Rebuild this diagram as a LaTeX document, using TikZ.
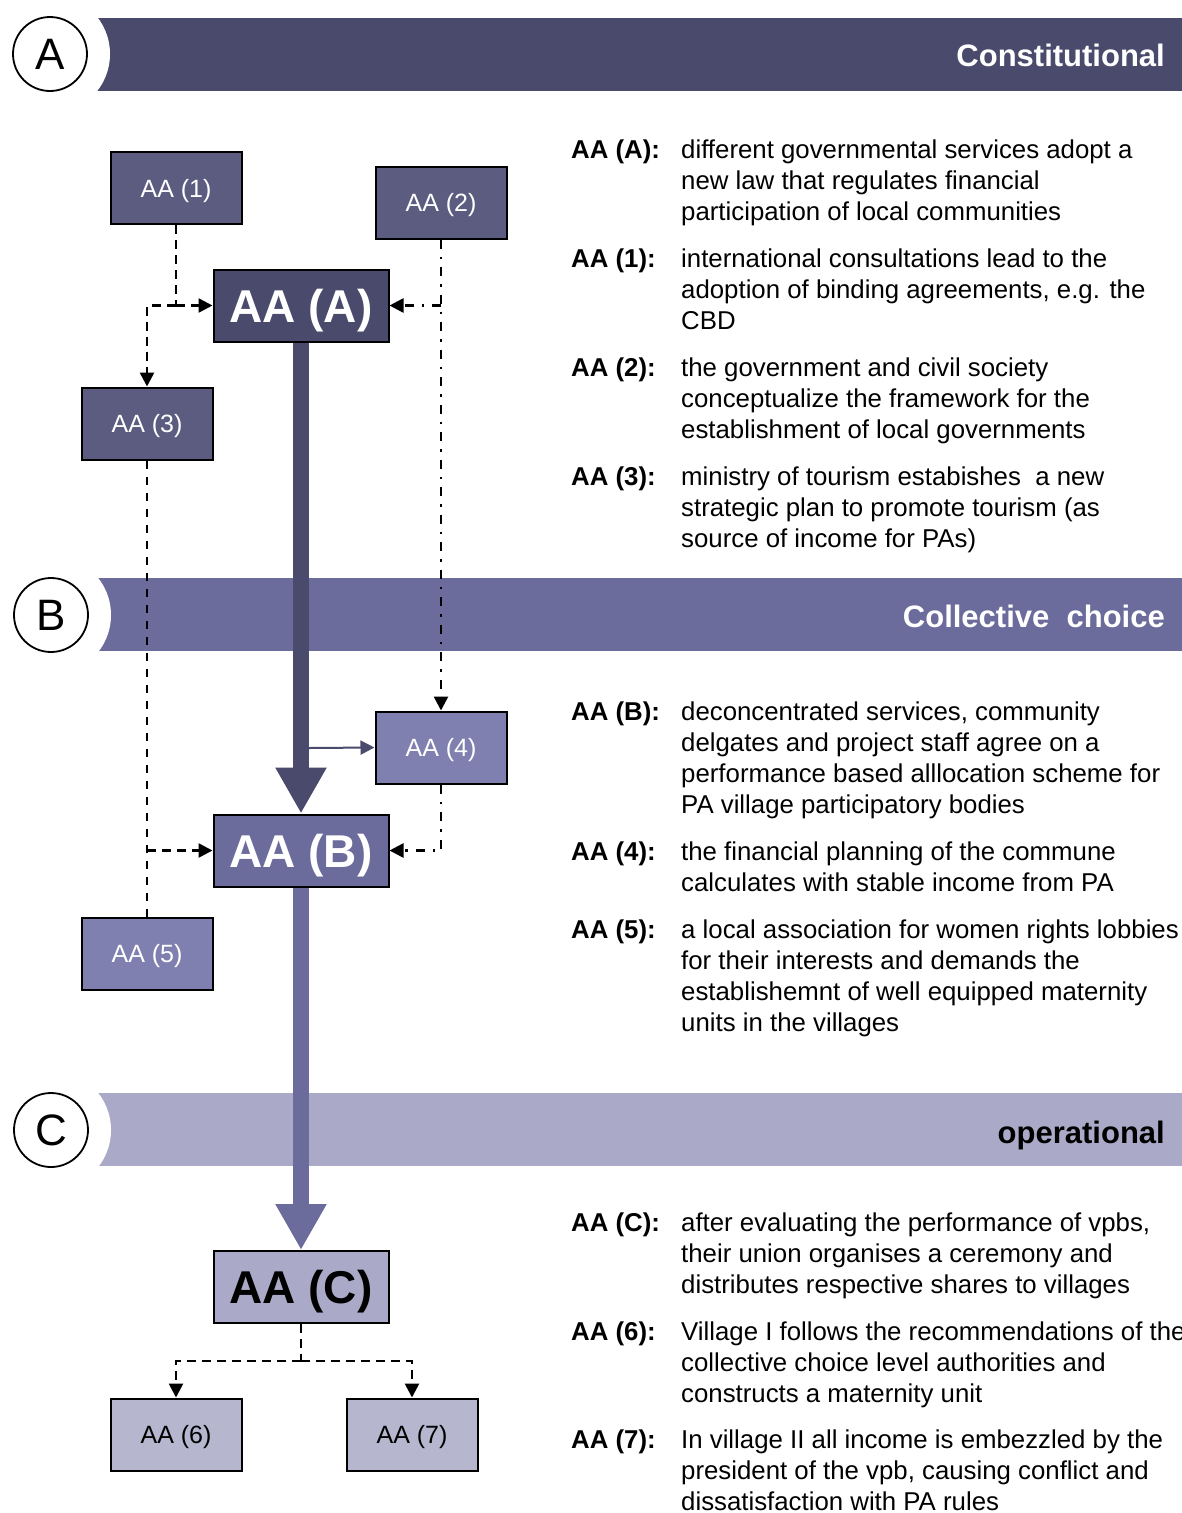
\documentclass[tikz,border=0pt]{standalone}
\usepackage{fontspec}
\setmainfont{Liberation Sans}
\usetikzlibrary{arrows.meta}

\definecolor{levelA}{HTML}{4A4A6C}
\definecolor{levelB}{HTML}{6C6C9C}
\definecolor{levelC}{HTML}{AAAAC8}
\definecolor{subA}{HTML}{5C5C80}
\definecolor{subB}{HTML}{8080B0}
\definecolor{subC}{HTML}{B6B6CE}

\tikzset{
  bandtitle/.style={anchor=base east, inner sep=0pt, font=\fontsize{31}{34}\selectfont\bfseries},
  levelmark/.style={circle, draw=black, line width=1.8pt, fill=white, minimum size=74pt, inner sep=0pt,
    font=\fontsize{44}{44}\selectfont},
  smallbox/.style={draw=black, line width=2pt, minimum width=131pt, minimum height=72pt, inner sep=0pt,
    text depth=0pt, font=\fontsize{25}{30}\selectfont},
  bigbox/.style={draw=black, line width=2pt, minimum width=175pt, minimum height=72pt, inner sep=0pt,
    text depth=0pt, font=\fontsize{46}{50}\selectfont\bfseries},
  tip/.style={-{Triangle[width=14pt,length=14pt]}},
  link/.style={line width=2.6pt, dash pattern=on 9pt off 6pt},
  linkdot/.style={line width=2.6pt, dash pattern=on 9pt off 8pt on 2.5pt off 8pt},
  flow/.style={line width=16pt, -{Triangle[width=48pt,length=46pt]}},
  lab/.style={anchor=base west, inner sep=0pt, font=\fontsize{25.8}{31}\selectfont\bfseries},
  desc/.style={anchor=base west, inner sep=0pt, font=\fontsize{25.8}{31}\selectfont},
}

\newcommand{\lines}[1]{\begin{tabular}[t]{@{}l@{}}#1\end{tabular}}

\begin{document}
\begin{tikzpicture}[x=1pt,y=-1pt]
\useasboundingbox (0,0) rectangle (1182,1513);

% level bands with a round notch at the left end
\fill[levelA] (95,18) rectangle (1182,91);
\fill[levelB] (95,578) rectangle (1182,651);
\fill[levelC] (95,1093) rectangle (1182,1166);
\fill[white] (50,54) circle[radius=60];
\fill[white] (51,615) circle[radius=60];
\fill[white] (51,1130) circle[radius=60];

\node[levelmark] (cA) at (50,54) {A};
\node[levelmark] (cB) at (51,615) {B};
\node[levelmark] (cC) at (51,1130) {C};

\node[bandtitle, text=white] (tA) at (1165,66) {Constitutional};
\node[bandtitle, text=white] (tB) at (1165,627) {Collective\ \ choice};
\node[bandtitle, text=black] (tC) at (1165,1143) {operational};

% action arenas
\node[smallbox, fill=subA, text=white] (AA1) at (176,188) {AA (1)};
\node[smallbox, fill=subA, text=white] (AA2) at (441,202.5) {AA (2)};
\node[bigbox, fill=levelA, text=white] (AAA) at (301,305.5) {AA (A)};
\node[smallbox, fill=subA, text=white] (AA3) at (147,423.5) {AA (3)};
\node[smallbox, fill=subB, text=white] (AA4) at (441,747.5) {AA (4)};
\node[bigbox, fill=levelB, text=white] (AAB) at (301,850.5) {AA (B)};
\node[smallbox, fill=subB, text=white] (AA5) at (147,953.5) {AA (5)};
\node[bigbox, fill=levelC, text=black] (AAC) at (301,1287) {AA (C)};
\node[smallbox, fill=subC, text=black] (AA6) at (176,1434.5) {AA (6)};
\node[smallbox, fill=subC, text=black] (AA7) at (412,1434.5) {AA (7)};

% main flow between levels
\draw[flow, levelA] (AAA.south) -- (AAB.north);
\draw[flow, levelB] (AAB.south) -- (AAC.north);
\coordinate (tap) at (309,748);
\draw[levelA, line width=2pt, -{Triangle[width=14pt,length=14pt]}] (tap) -- (AA4.west);

% constitutional level links
\draw[link] (AA1.south) -- (AA1.south |- AAA.west) coordinate (j1);
\draw[link, tip] (j1) -- (AAA.west);
\draw[link, tip] (j1) -- (AA3.north |- j1) -- (AA3.north);
\draw[linkdot, tip] (AA2.south) -- (AA4.north);
\draw[linkdot, tip] (AA2.south |- AAA.east) -- (AAA.east);

% collective choice level links
\draw[link, dash pattern=on 8pt off 8pt] (AA3.south) -- (AA5.north);
\draw[link, tip] (AA3.south |- AAB.west) -- (AAB.west);
\draw[linkdot, tip] (AA4.south) -- (AA4.south |- AAB.east) -- (AAB.east);

% operational level links
\draw[link] (AAC.south) -- ++(0,37) coordinate (jc);
\draw[link, tip] (jc) -- (jc -| AA6.north) -- (AA6.north);
\draw[link, tip] (jc) -- (jc -| AA7.north) -- (AA7.north);

% descriptions
\node[lab] (lA) at (571,158) {AA (A):};
\node[desc] (dA) at (681,158) {\lines{different governmental services adopt a\\new law that regulates financial\\participation of local communities}};
\node[lab] (l1) at (571,267) {AA (1):};
\node[desc] (d1) at (681,267) {\lines{international consultations lead to the\\adoption of binding agreements, e.g. the\\CBD}};
\node[lab] (l2) at (571,376) {AA (2):};
\node[desc] (d2) at (681,376) {\lines{the government and civil society\\conceptualize the framework for the\\establishment of local governments}};
\node[lab] (l3) at (571,485) {AA (3):};
\node[desc] (d3) at (681,485) {\lines{ministry of tourism estabishes\ \ a new\\strategic plan to promote tourism (as\\source of income for PAs)}};

\node[lab] (lB) at (571,720) {AA (B):};
\node[desc] (dB) at (681,720) {\lines{deconcentrated services, community\\delgates and project staff agree on a\\performance based alllocation scheme for\\PA village participatory bodies}};
\node[lab] (l4) at (571,860) {AA (4):};
\node[desc] (d4) at (681,860) {\lines{the financial planning of the commune\\calculates with stable income from PA}};
\node[lab] (l5) at (571,938) {AA (5):};
\node[desc] (d5) at (681,938) {\lines{a local association for women rights lobbies\\for their interests and demands the\\establishemnt of well equipped maternity\\units in the villages}};

\node[lab] (lC) at (571,1231) {AA (C):};
\node[desc] (dC) at (681,1231) {\lines{after evaluating the performance of vpbs,\\their union organises a ceremony and\\distributes respective shares to villages}};
\node[lab] (l6) at (571,1340) {AA (6):};
\node[desc] (d6) at (681,1340) {\lines{Village I follows the recommendations of the\\collective choice level authorities and\\constructs a maternity unit}};
\node[lab] (l7) at (571,1448) {AA (7):};
\node[desc] (d7) at (681,1448) {\lines{In village II all income is embezzled by the\\president of the vpb, causing conflict and\\dissatisfaction with PA rules}};
\end{tikzpicture}
\end{document}
